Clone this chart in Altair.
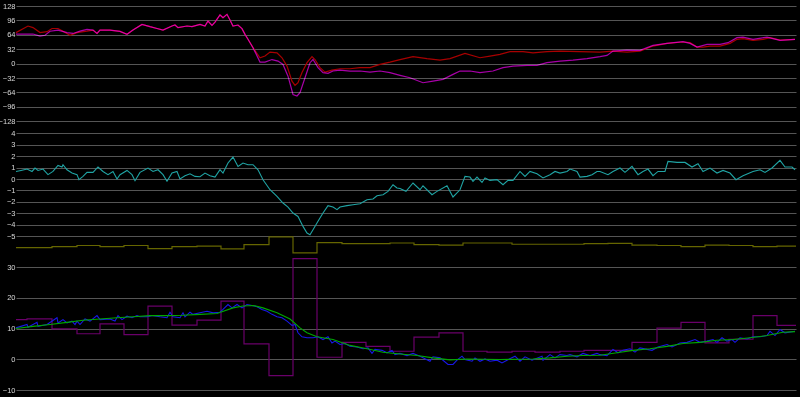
import altair as alt
import pandas as pd

# ---------------- data (x = sample index 0..780) ----------------
RED_X = [0, 12, 17, 24, 31, 36, 42, 47, 54, 61, 71, 77, 81, 84, 94, 104, 111, 117, 126, 134, 141, 147, 156, 159, 162,
         171, 176, 184, 189, 192, 196, 199, 204, 207, 211, 214, 217, 222, 226, 229, 232, 237, 244, 249, 254, 261, 266,
         271, 276, 279, 282, 286, 291, 296, 299, 304, 309, 316, 324, 334, 344, 354, 364, 374, 384, 397, 411, 424, 434,
         449, 464, 474, 484, 494, 507, 517, 531, 544, 564, 584, 597, 611, 624, 637, 651, 667, 674, 681, 687, 694, 704,
         714, 721, 727, 737, 747, 754, 764, 779]
RED_Y = [68.8, 83.5, 80, 69, 71, 78, 78, 72, 62.8, 68.7, 72, 74.5, 67, 74.5, 74.5, 71.7, 65, 74.5, 87, 82, 78, 74.5,
         83.5, 85.7, 80, 83.5, 82, 87, 83.5, 94.6, 85, 92, 108, 102, 109.5, 97, 83.5, 85.7, 77.7, 65, 54, 35.4, 13, 16.7,
         25.5, 24, 13, -5.5, -39, -48.5, -42.5, -20, 2, 15.4, 9, -9, -19, -14.5, -11.4, -11.4, -9, -9, -1.8, 3.3, 9,
         15.4, 11, 7.8, 11, 22.7, 13, 16.7, 20.5, 26.4, 26.4, 24, 26.4, 27.8, 26.4, 25.5, 27.8, 25.5, 27.8, 39, 45, 48,
         46.6, 36.7, 36.7, 39, 39, 45, 54, 55.4, 51.6, 54, 57.7, 52.3, 54]

MAG_X = [0, 17, 24, 29, 34, 42, 51, 57, 64, 71, 77, 81, 84, 94, 104, 111, 117, 126, 134, 141, 147, 156, 159, 162, 171,
         176, 184, 189, 192, 196, 199, 204, 207, 211, 214, 217, 222, 226, 229, 232, 237, 244, 249, 256, 262, 267, 272,
         277, 281, 284, 289, 294, 297, 302, 307, 312, 317, 324, 334, 344, 354, 364, 374, 384, 394, 407, 417, 427, 437,
         444, 454, 464, 477, 487, 497, 511, 521, 531, 544, 557, 571, 584, 591, 597, 611, 624, 637, 651, 667, 674, 681,
         691, 704, 712, 721, 727, 737, 751, 764, 779]
MAG_Y = [65.7, 65.7, 61, 63, 72, 74.5, 68.7, 67, 72, 76, 74.5, 67, 74.5, 74.5, 71.7, 65, 74.5, 87, 82, 78, 74.5, 83.5,
         85.7, 80, 83.5, 82, 87, 83.5, 94.6, 85, 92, 108, 102, 109.5, 97, 83.5, 85.7, 77.7, 65, 54, 35.4, 3.3, 3.3, 9,
         5.6, -1.8, -28, -68.6, -72, -64.8, -31.5, 2, 9, -9, -20, -21.7, -16.5, -14.3, -16.5, -16.5, -18.9, -16.5, -20,
         -26, -31.5, -42.5, -39, -35, -24, -16.5, -16.5, -20, -16.5, -9, -5.5, -4, -4, 2, 5.6, 7.8, 11, 15.4, 18.2,
         27.8, 30, 29.4, 40.5, 45, 49, 45, 36.7, 42.7, 42.7, 46.5, 57.7, 59, 54, 59, 51.6, 54]

CYAN_X = [0, 5, 11, 16, 19, 22, 27, 32, 37, 42, 46, 47, 51, 56, 61, 63, 67, 71, 77, 82, 87, 92, 97, 101, 104, 111, 116,
          119, 124, 132, 137, 142, 147, 151, 156, 161, 164, 169, 174, 179, 184, 189, 194, 199, 204, 207, 212, 217, 222,
          227, 232, 237, 242, 247, 254, 261, 267, 272, 277, 282, 287, 291, 294, 297, 302, 307, 312, 317, 321, 324, 331,
          337, 344, 351, 357, 361, 367, 372, 377, 381, 384, 390, 397, 404, 407, 416, 421, 431, 437, 444, 449, 454, 457,
          461, 466, 469, 474, 481, 487, 492, 497, 504, 509, 514, 521, 527, 534, 539, 544, 551, 554, 561, 564, 571, 576,
          581, 584, 592, 597, 604, 609, 616, 622, 627, 632, 637, 642, 649, 652, 661, 669, 676, 682, 687, 694, 701, 707,
          714, 720, 727, 737, 744, 749, 756, 764, 769, 776, 779]
CYAN_Y = [0.66, 0.75, 0.87, 0.66, 0.96, 0.75, 0.87, 0.38, 0.66, 1.19, 1.05, 1.25, 0.81, 0.52, 0.38, -0.06, 0.23, 0.58,
          0.58, 1.05, 0.66, 0.38, 0.66, 0, 0.38, 0.75, 0.38, -0.15, 0.58, 0.96, 0.66, 0.81, 0.38, -0.2, 0.52, 0.66, 0,
          0.29, 0.46, 0.23, 0.2, 0.52, 0.29, 0.17, 0.81, 0.52, 1.4, 1.92, 1.1, 1.4, 1.25, 1.25, 0.81, -0.06, -0.94,
          -1.52, -2.1, -2.45, -2.97, -3.27, -4.14, -4.72, -4.87, -4.43, -3.7, -2.97, -2.33, -2.45, -2.68, -2.45, -2.33,
          -2.25, -2.16, -1.81, -1.75, -1.46, -1.37, -1.08, -0.5, -0.79, -0.83, -1.08, -0.35, -0.94, -0.59, -1.37,
          -1.08, -0.59, -1.57, -0.94, 0.23, 0.17, -0.2, 0.17, -0.3, 0.09, -0.12, -0.06, -0.5, -0.12, -0.12, 0.66,
          0.23, 0.66, 0.46, 0.09, 0.38, 0.66, 0.52, 0.66, 0.87, 0.66, 0.17, 0.23, 0.38, 0.66, 0.66, 0.38, 0.66, 0.96,
          0.58, 1.1, 0.38, 0.66, 0.87, 0.29, 0.66, 0.66, 1.54, 1.45, 1.45, 1.05, 1.34, 0.66, 0.96, 0.52, 0.75, 0.52,
          -0.06, 0.29, 0.66, 0.81, 0.58, 0.96, 1.63, 1.05, 1.05, 0.81]

STEP_X = [0, 11, 36, 61, 84, 108, 132, 156, 181, 205, 228, 253, 277, 301, 326, 350, 374, 398, 423, 447, 471, 496,
          519, 544, 568, 592, 616, 641, 665, 689, 713, 737, 761, 780]
YELLOW_Y = [36.3, 36.3, 36.6, 37.0, 36.6, 37.0, 36.0, 36.6, 36.8, 35.9, 37.3, 39.8, 34.6, 37.9, 37.6, 37.6, 37.8,
            37.3, 37.1, 37.8, 37.8, 37.4, 37.4, 37.4, 37.6, 37.7, 37.1, 37.0, 36.6, 37.1, 37.0, 36.6, 36.8, 36.8]
PURPLE_Y = [12.9, 13.1, 9.9, 8.3, 11.5, 8.0, 17.3, 11.1, 12.7, 18.9, 5.0, -5.3, 32.7, 0.65, 5.5, 4.2, 2.6, 7.2, 8.6,
            2.6, 2.3, 2.6, 2.3, 2.6, 2.9, 2.9, 5.5, 10.1, 12.0, 5.3, 6.5, 14.2, 11.0, 11.0]

GREEN_X = [0, 17, 34, 51, 67, 84, 101, 117, 134, 151, 167, 184, 201, 217, 227, 237, 247, 261, 274, 284, 291, 301, 317,
           334, 351, 367, 384, 401, 417, 434, 451, 484, 517, 534, 551, 567, 584, 601, 617, 634, 651, 667, 684, 701, 717,
           734, 751, 767, 779]
GREEN_Y = [10.0, 10.7, 11.3, 12.0, 12.7, 13.1, 13.5, 13.8, 14.2, 14.2, 14.3, 14.6, 14.9, 16.7, 17.3, 17.5, 16.7, 15.1,
           13.1, 10.2, 8.6, 7.3, 6.4, 4.5, 3.4, 2.3, 1.7, 1.2, 0.45, -0.2, 0.1, -0.1, 0.1, 0.45, 1.0, 1.2, 1.3, 2.1,
           2.9, 3.4, 4.2, 5.1, 5.5, 6.2, 6.4, 7.0, 7.7, 8.8, 9.0]

BLUE_X = [0, 11, 12, 21, 22, 31, 41, 42, 47, 51, 56, 59, 61, 64, 69, 74, 81, 84, 94, 99, 102, 106, 111, 116, 121, 124,
          131, 137, 144, 151, 154, 157, 164, 167, 169, 174, 177, 184, 191, 197, 204, 207, 212, 216, 221, 226, 231, 236,
          241, 246, 251, 256, 261, 266, 271, 276, 279, 282, 286, 291, 297, 302, 307, 312, 316, 319, 324, 329, 334, 341,
          347, 352, 356, 359, 366, 371, 376, 379, 384, 391, 397, 404, 414, 417, 424, 432, 437, 441, 446, 449, 456, 459,
          464, 469, 474, 481, 486, 491, 499, 504, 509, 516, 526, 527, 534, 539, 544, 551, 554, 561, 567, 574, 581, 584,
          591, 597, 602, 607, 614, 619, 624, 631, 636, 642, 651, 656, 664, 671, 679, 684, 691, 697, 701, 706, 711, 716,
          719, 724, 731, 737, 744, 751, 754, 759, 764, 769, 779]
BLUE_Y = [10.2, 11.3, 10.4, 12.0, 10.7, 11.3, 13.5, 11.8, 12.9, 11.8, 12.4, 11.3, 12.4, 11.3, 13.1, 12.4, 14.2, 12.9,
          13.1, 12.4, 14.2, 12.9, 14.0, 13.5, 14.2, 13.8, 13.8, 14.2, 13.8, 13.5, 15.3, 13.8, 13.5, 15.1, 13.8, 15.3,
          14.6, 15.1, 15.6, 15.1, 15.3, 16.2, 17.8, 16.7, 17.8, 16.7, 17.8, 17.5, 17.1, 16.2, 15.6, 14.6, 13.8, 13.5,
          12.4, 11.0, 11.3, 8.6, 7.3, 7.0, 7.0, 7.3, 6.4, 7.3, 5.3, 5.9, 4.8, 5.1, 4.2, 4.0, 3.4, 3.7, 1.9, 3.2, 2.9,
          2.1, 2.9, 1.5, 1.9, 1.2, 1.9, 1.0, -0.65, 0.8, 0.45, -1.7, -1.7, -0.3, 1.0, -0.1, -0.65, 0.45, -0.65, 0.1,
          -0.65, -0.3, -1.2, -0.3, 1.0, -0.65, 0.8, -0.3, 1.0, -0.3, 1.5, 0.45, 1.5, 1.2, 1.5, 0.8, 1.9, 1.2, 1.9, 1.5,
          1.2, 3.2, 2.1, 2.9, 3.4, 2.3, 3.7, 3.2, 2.9, 4.0, 4.8, 4.0, 5.3, 5.5, 6.4, 5.5, 5.9, 6.4, 5.5, 7.0, 5.9, 6.4,
          5.5, 7.0, 6.6, 7.3, 7.3, 7.7, 9.1, 7.7, 9.7, 8.6, 9.1]

TOP_TICKS = [128, 96, 64, 32, 0, -32, -64, -96, -128]
MID_TICKS = [4, 3, 2, 1, 0, -1, -2, -3, -4, -5]
BOT_TICKS = [30, 20, 10, 0, -10]
X_GRID = [0, 78, 156, 234, 312, 390, 468, 546, 624, 702, 780]

# ---------------- styling ----------------
BG = "#000000"
HGRID = "#555555"
VGRID = "#8a8a8a"
LABEL = "#d8d8d8"
FONT = "Liberation Sans"

XDOM = [0, 780]
TOP_DOM = [-725.3, 128]
MID_DOM = [-18.44, 15.12]
BOT_DOM = [-10, 114.88]


def frame(xs, ys):
    return pd.DataFrame({"x": xs, "y": ys})


def yaxis(vals):
    return alt.Axis(orient="left", values=vals, grid=True, gridColor=HGRID, gridWidth=1, domain=False,
                    ticks=False, labelColor=LABEL, labelFont=FONT, labelFontSize=7.5, labelPadding=1,
                    labelOverlap=False, title=None)


xaxis = alt.Axis(values=X_GRID, grid=True, gridColor=VGRID, gridWidth=1, labels=False, ticks=False,
                 domain=False, title=None)


def layer(df, color, dom, axis=None, xax=None, interp="linear", width=1.0, blend=None):
    kw = dict(color=color, strokeWidth=width, interpolate=interp)
    if blend:
        kw["blend"] = blend
    return alt.Chart(df).mark_line(**kw).encode(
        x=alt.X("x:Q", scale=alt.Scale(domain=XDOM, nice=False, zero=False), axis=xax),
        y=alt.Y("y:Q", scale=alt.Scale(domain=dom, nice=False, zero=False), axis=axis),
    )


layers = [
    layer(frame(RED_X, RED_Y), "#a80000", TOP_DOM, axis=yaxis(TOP_TICKS), xax=xaxis, width=1.2),
    layer(frame(MAG_X, MAG_Y), "#a800a8", TOP_DOM, width=1.2, blend="screen"),
    layer(frame(CYAN_X, CYAN_Y), "#20a4a4", MID_DOM, axis=yaxis(MID_TICKS), width=1.1),
    layer(frame(STEP_X, YELLOW_Y), "#666600", BOT_DOM, axis=yaxis(BOT_TICKS), interp="step-after", width=1.2),
    layer(frame(STEP_X, PURPLE_Y), "#6a006a", BOT_DOM, interp="step-after", width=1.2),
    layer(frame(BLUE_X, BLUE_Y), "#1818e8", BOT_DOM, width=1.1),
    layer(frame(GREEN_X, GREEN_Y), "#00a800", BOT_DOM, width=1.1),
]

chart = alt.layer(*layers).resolve_scale(y="independent").properties(
    width=780, height=384,
    autosize=alt.AutoSizeParams(type="none"),
    padding={"left": 16, "top": 6, "right": 4, "bottom": 7},
    background=BG,
).configure_view(stroke=None)

chart.save("out.html", embed_options={"renderer": "svg", "actions": False})
